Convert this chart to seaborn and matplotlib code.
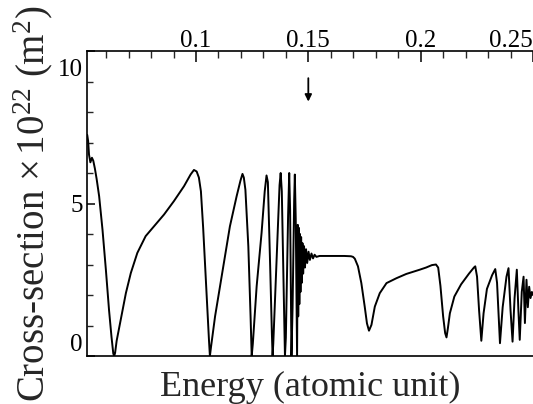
import matplotlib
matplotlib.use("Agg")
import matplotlib.pyplot as plt
import seaborn as sns
import pandas as pd
from matplotlib.ticker import FixedLocator, MultipleLocator
from matplotlib.transforms import ScaledTranslation

# Curve (energy in a.u., cross-section x 1e22 m^2)
energy = [
    0.0516, 0.0520, 0.0524, 0.0530, 0.0537, 0.0543, 0.0550, 0.0558, 0.0569, 0.0584,
    0.0599, 0.0613, 0.0624, 0.0632, 0.0636, 0.0640, 0.0647, 0.0665, 0.0688, 0.0710,
    0.0739, 0.0776, 0.0813, 0.0858, 0.0902, 0.0947, 0.0976, 0.0991, 0.1003, 0.1013,
    0.1022, 0.1032, 0.1048, 0.1058, 0.1062, 0.1067, 0.1085, 0.1107, 0.1130, 0.1151,
    0.1181, 0.1198, 0.1207, 0.1213, 0.1220, 0.1233, 0.1243, 0.1248, 0.1253, 0.1270,
    0.1292, 0.1306, 0.1314, 0.1320, 0.1330, 0.1338, 0.1341, 0.1344, 0.1360, 0.1372,
    0.1377, 0.1382, 0.1392, 0.1396, 0.1400, 0.1410, 0.1415, 0.1419, 0.1425, 0.1430,
    0.1437, 0.1440, 0.1444, 0.1450, 0.1453, 0.1455, 0.1458, 0.1460, 0.1463, 0.1465,
    0.1468, 0.1471, 0.1474, 0.1477, 0.1481, 0.1485, 0.1490, 0.1495, 0.1501, 0.1507,
    0.1514, 0.1521, 0.1528, 0.1536, 0.1550, 0.1600, 0.1660, 0.1690, 0.1699, 0.1707,
    0.1721, 0.1736, 0.1751, 0.1761, 0.1770, 0.1781, 0.1796, 0.1818, 0.1848, 0.1892,
    0.1936, 0.1996, 0.2024, 0.2050, 0.2068, 0.2078, 0.2088, 0.2100, 0.2109, 0.2115,
    0.2121, 0.2130, 0.2150, 0.2180, 0.2215, 0.2237, 0.2243, 0.2251, 0.2260, 0.2270,
    0.2280, 0.2295, 0.2318, 0.2332, 0.2340, 0.2353, 0.2365, 0.2382, 0.2391, 0.2400,
    0.2409, 0.2418, 0.2428, 0.2435, 0.2441, 0.2450, 0.2458, 0.2464, 0.2471, 0.2477,
    0.2483, 0.2489, 0.2495, 0.2500,
]
cross_section = [
    7.25, 7.05, 6.60, 6.35, 6.50, 6.40, 6.15, 5.80, 5.24, 4.14,
    2.83, 1.51, 0.63, 0.08, 0.00, 0.10, 0.50, 1.18, 2.06, 2.72,
    3.38, 3.93, 4.25, 4.64, 5.08, 5.57, 5.95, 6.10, 6.05, 5.85,
    5.40, 4.20, 1.90, 0.50, 0.00, 0.30, 1.30, 2.28, 3.30, 4.25,
    5.24, 5.75, 5.97, 5.85, 5.45, 3.60, 1.30, 0.00, 0.40, 2.28,
    4.04, 5.40, 5.92, 5.70, 3.00, 0.70, 0.00, 0.40, 3.40, 5.60,
    6.00, 5.40, 1.50, 0.00, 0.60, 4.60, 6.00, 4.80, 0.00, 1.60,
    5.10, 5.95, 4.50, 0.00, 4.30, 1.30, 4.20, 1.70, 4.00, 2.10,
    3.90, 2.40, 3.70, 2.70, 3.60, 2.90, 3.50, 3.05, 3.42, 3.15,
    3.36, 3.20, 3.32, 3.25, 3.28, 3.28, 3.28, 3.27, 3.25, 3.19,
    2.94, 2.39, 1.62, 1.07, 0.83, 1.02, 1.62, 2.06, 2.39, 2.55,
    2.69, 2.83, 2.90, 2.98, 3.00, 2.90, 2.30, 1.30, 0.75, 0.61,
    0.90, 1.40, 1.95, 2.35, 2.70, 2.90, 2.94, 2.60, 1.50, 0.50,
    1.40, 2.20, 2.65, 2.85, 2.40, 0.42, 1.60, 2.60, 2.88, 1.50,
    0.47, 1.90, 2.83, 1.50, 0.53, 2.10, 2.60, 1.08, 2.50, 1.60,
    2.27, 1.90, 2.10, 2.00,
]

x_major = [0.1, 0.15, 0.2, 0.25]
x_labels = ["0.1", "0.15", "0.2", "0.25"]
y_major = [0, 5, 10]
y_labels = ["0", "5", "10"]
threshold = 0.15

sns.set_theme(style="ticks")
plt.rcParams["font.family"] = ["Liberation Serif", "DejaVu Serif"]
plt.rcParams["mathtext.fontset"] = "custom"
plt.rcParams["mathtext.rm"] = "Liberation Serif"
plt.rcParams["mathtext.it"] = "Liberation Serif:italic"

df = pd.DataFrame({"energy": energy, "cross_section": cross_section})

fig = plt.figure(figsize=(5.33, 4.04), dpi=100)
ax = fig.add_axes([87 / 533, 48 / 404, 446 / 533, 305 / 404])
sns.lineplot(data=df, x="energy", y="cross_section", sort=False, estimator=None,
             color="black", linewidth=1.4, ax=ax)

ax.set_xlim(0.0515, 0.2500)
ax.set_ylim(0, 10)

# ticks on top only, label at bottom
ax.xaxis.tick_top()
ax.xaxis.set_major_locator(FixedLocator(x_major))
ax.set_xticklabels(x_labels)
ax.xaxis.set_minor_locator(MultipleLocator(0.01))
ax.yaxis.set_major_locator(FixedLocator(y_major))
ax.set_yticklabels(y_labels)
ax.yaxis.set_minor_locator(MultipleLocator(1))
ax.tick_params(axis="x", which="major", direction="in", length=8, width=1.1,
               labelsize=18, pad=-1, colors="black")
ax.tick_params(axis="x", which="minor", direction="in", length=5, width=1.0)
ax.tick_params(axis="y", which="major", direction="in", length=6, width=1.1,
               labelsize=18, pad=3, colors="black")
ax.tick_params(axis="y", which="minor", direction="in", length=4, width=1.0)

for side in ["left", "top", "bottom"]:
    ax.spines[side].set_linewidth(1.2)
    ax.spines[side].set_color("black")
ax.spines["right"].set_visible(False)

ax.xaxis.get_major_ticks()[-1].label2.set_ha("right")
ax.yaxis.get_major_ticks()[0].label1.set_va("bottom")
top_lab = ax.yaxis.get_major_ticks()[-1].label1
top_lab.set_va("top")
top_lab.set_transform(top_lab.get_transform()
                      + ScaledTranslation(0, -8 / 100, fig.dpi_scale_trans))

ax.set_xlabel("Energy (atomic unit)", fontsize=26, labelpad=11)
ax.xaxis.set_label_position("bottom")
ax.set_ylabel(r"Cross-section $\times\,10^{22}$ (m$^{2}$)", fontsize=28)
ax.yaxis.set_label_coords(-0.072, 0.5)

ax.annotate("", xy=(threshold, 8.25), xytext=(threshold, 9.2),
            arrowprops=dict(arrowstyle="-|>", color="black", lw=1.3,
                            mutation_scale=10))

fig.savefig("out.png", dpi=100)
